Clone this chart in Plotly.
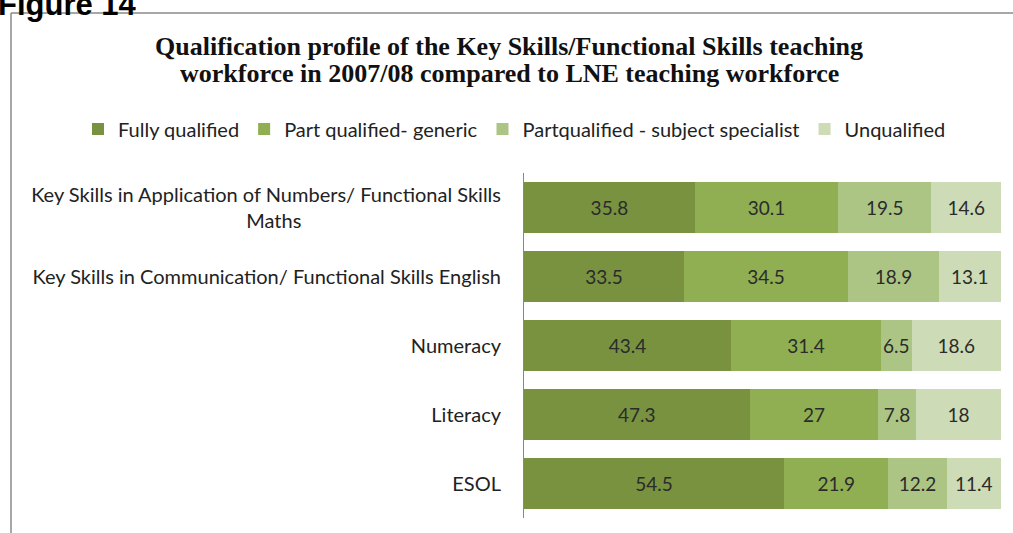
import plotly.graph_objects as go

categories = [
    "Key Skills in Application of Numbers/ Functional Skills<br>Maths",
    "Key Skills in Communication/ Functional Skills English",
    "Numeracy",
    "Literacy",
    "ESOL",
]
series_names = ["Fully qualified", "Part qualified- generic",
                "Partqualified - subject specialist", "Unqualified"]
fully = [35.8, 33.5, 43.4, 47.3, 54.5]
part_generic = [30.1, 34.5, 31.4, 27, 21.9]
part_subject = [19.5, 18.9, 6.5, 7.8, 12.2]
unqualified = [14.6, 13.1, 18.6, 18, 11.4]
title_lines = ["Qualification profile of the Key Skills/Functional Skills teaching",
               "workforce in 2007/08 compared to LNE teaching workforce"]
colors = ["#78923F", "#8FAF52", "#ADC584", "#CDDBB6"]

W, H = 1013, 533
L, R, T, B = 524, 12, 173, 15
pw, ph = W - L - R, H - T - B

def px(x):
    return (x - L) / pw

def py(y):
    return (H - B - y) / ph

ticktext = list(categories)
ticktext[0] = ("Key Skills in Application of Numbers/ Functional Skills<br>Maths"
               + "&nbsp;" * 39)

fig = go.Figure()
for name, vals, col in zip(series_names, [fully, part_generic, part_subject, unqualified], colors):
    fig.add_trace(go.Bar(
        y=categories, x=vals, name=name, orientation="h",
        marker=dict(color=col, line=dict(width=0)),
        text=[("%g" % v) for v in vals], textposition="inside",
        insidetextanchor="middle", textangle=0,
        textfont=dict(family="Lato", size=19, color="#2b2b2b"),
        hoverinfo="x+name",
    ))

fig.update_layout(
    width=W, height=H, barmode="stack", bargap=0.25,
    margin=dict(l=L, r=R, t=T, b=B, autoexpand=False),
    plot_bgcolor="white", paper_bgcolor="white",
    uniformtext=dict(mode="show", minsize=19),
    xaxis=dict(range=[0, 100], visible=False, fixedrange=True),
    yaxis=dict(autorange="reversed", tickmode="array", tickvals=categories,
               ticktext=ticktext, showline=True, linecolor="#888888", linewidth=1,
               ticks="", ticklabelstandoff=18, showgrid=False,
               tickfont=dict(family="Lato", size=20, color="#222222")),
    legend=dict(orientation="h", x=px(78), y=py(129), xanchor="left", yanchor="middle",
                font=dict(family="Lato", size=20, color="#222222"),
                itemwidth=30, traceorder="normal", bgcolor="rgba(0,0,0,0)"),
    showlegend=True,
)

for line, ycen in zip(title_lines, [46, 73]):
    fig.add_annotation(
        xref="paper", yref="paper", x=px(509), y=py(ycen), xanchor="center", yanchor="middle",
        text="<b>%s</b>" % line, showarrow=False,
        font=dict(family="Liberation Serif", size=26, color="#111111"),
    )
fig.add_annotation(
    xref="paper", yref="paper", x=px(-4), y=py(4), xanchor="left", yanchor="middle",
    text="<b>Figure 14</b>", showarrow=False,
    font=dict(family="Liberation Sans", size=31, color="#000000"),
)
# frame
fig.add_shape(type="line", xref="paper", yref="paper", x0=px(11), x1=px(11),
              y0=py(13), y1=py(H), line=dict(color="#8a8a8a", width=1.5))
fig.add_shape(type="line", xref="paper", yref="paper", x0=px(11), x1=px(W),
              y0=py(13), y1=py(13), line=dict(color="#8a8a8a", width=1.5))

fig.write_html("out.html", config={"displayModeBar": False},
               post_script="document.body.style.margin='0';")
